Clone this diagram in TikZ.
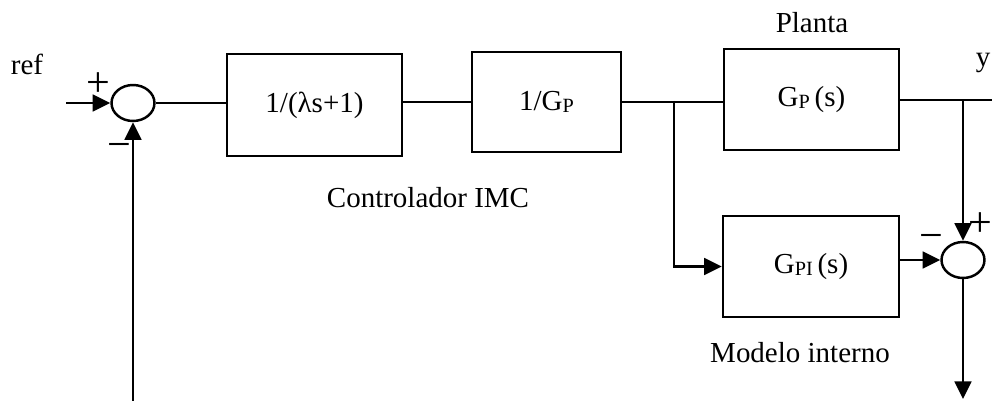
\documentclass[tikz,border=0pt]{standalone}
\usepackage{fontspec}
\setmainfont{Liberation Serif}
\usetikzlibrary{shapes.geometric,arrows.meta}
\newcommand{\subind}[1]{\raisebox{-0.15ex}{\fontsize{11.5}{12}\selectfont #1}}
\begin{document}
\begin{tikzpicture}[x=0.02cm, y=-0.02cm, line width=1.4pt,
    font=\fontsize{16.5}{19}\selectfont,
    bloque/.style={draw, rectangle, inner sep=0pt},
    suma/.style={draw, ellipse, inner sep=0pt, minimum width=0.86cm, minimum height=0.72cm},
    signo/.style={font=\fontsize{24}{26}\selectfont, inner sep=0pt},
    flecha/.style={-{Triangle[length=10pt, width=9.5pt]}}]
  \useasboundingbox (0,0) rectangle (992,401);
  % lazo IMC: filtro, inversa de la planta, planta y modelo interno
  \node[suma] (sumA) at (133,103) {};
  \node[bloque, minimum width=3.5cm, minimum height=2.04cm] (filtro) at (314.5,105) {1/(λs+1)};
  \node[bloque, minimum width=2.98cm, minimum height=2.0cm] (inversa) at (546.5,102) {1/G\subind{P}};
  \node[bloque, minimum width=3.5cm, minimum height=2.02cm] (planta) at (811.5,99.5) {G\subind{P}\,(s)};
  \node[bloque, minimum width=3.52cm, minimum height=2.02cm] (modelo) at (811,266.5) {G\subind{PI}\,(s)};
  \node[suma] (sumB) at (963,260) {};
  \node[anchor=base] (tref) at (27,75) {ref};
  \node[anchor=base] (tplanta) at (812,33) {Planta};
  \node[anchor=base] (ty) at (983,67) {y};
  \node[anchor=base] (tctrl) at (428,208) {Controlador IMC};
  \node[anchor=base] (tmodelo) at (800,363) {Modelo interno};
  \node[signo] (masA) at (98,85) {+};
  \node[signo] (menosA) at (119,151) {−};
  \node[signo] (masB) at (980,225) {+};
  \node[signo] (menosB) at (931,242) {−};
  \coordinate (entrada) at (66,103);
  \coordinate (retorno) at (133,401);
  \coordinate (ramaU) at (674,101);
  \coordinate (ramaY) at (963,100);
  \coordinate (yfin) at (992,100);
  \coordinate (salida) at (963,399);
  \draw[flecha] (entrada) -- (sumA.west);
  \draw[flecha] (retorno) -- (sumA.south);
  \draw (sumA.east) -- (sumA.east -| filtro.west);
  \draw (filtro.east |- inversa) -- (inversa.west);
  \draw (inversa.east) -- (planta.west |- inversa);
  \draw (planta.east |- ramaY) -- (yfin);
  \draw[flecha] (ramaY) -- (sumB.north);
  \draw[flecha] (ramaU) |- (modelo.west);
  \draw[flecha] (modelo.east |- sumB) -- (sumB.west);
  \draw[flecha] (sumB.south) -- (salida);
\end{tikzpicture}
\end{document}
